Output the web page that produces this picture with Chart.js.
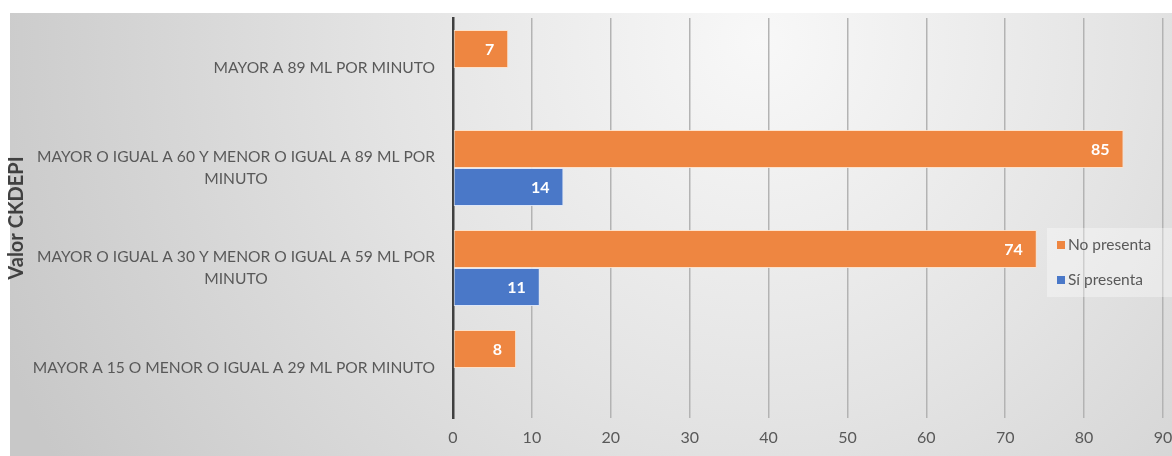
<!DOCTYPE html>
<html>
<head>
<meta charset="utf-8">
<script src="https://cdn.jsdelivr.net/npm/chart.js@4/dist/chart.umd.min.js"></script>
<style>
  html, body { margin: 0; padding: 0; background: #ffffff; }
  #wrap { width: 1172px; height: 456px; position: relative; }
</style>
</head>
<body>
<div id="wrap"><canvas id="c" width="1172" height="456"></canvas></div>
<script>
// ---- Data ----
const categories = [
  ["MAYOR A 89 ML POR MINUTO"],
  ["MAYOR O IGUAL A 60 Y MENOR O IGUAL A 89 ML POR", "MINUTO"],
  ["MAYOR O IGUAL A 30 Y MENOR O IGUAL A 59 ML POR", "MINUTO"],
  ["MAYOR A 15 O MENOR O IGUAL A 29 ML POR MINUTO"]
];
const seriesNames = ["No presenta", "Sí presenta"];
const noPresenta = [7, 85, 74, 8];
const siPresenta = [null, 14, 11, null];
const axisTitle = "Valor CKDEPI";
const xTicks = [0, 10, 20, 30, 40, 50, 60, 70, 80, 90];

const FONT = "Lato, 'Open Sans', sans-serif";
const orange = '#EE8641';
const blue = '#4A78C8';

// Background panel
const bgPlugin = {
  id: 'bgPanel',
  beforeDraw(chart) {
    const ctx = chart.ctx;
    ctx.save();
    ctx.fillStyle = '#ffffff';
    ctx.fillRect(0, 0, chart.width, chart.height);
    const g = ctx.createRadialGradient(760, 40, 0, 760, 40, 820);
    g.addColorStop(0, '#f8f8f8');
    g.addColorStop(0.45, '#e4e4e4');
    g.addColorStop(1, '#c8c8c8');
    ctx.fillStyle = g;
    ctx.fillRect(10, 13, chart.width - 10, chart.height - 13);
    ctx.restore();
  }
};

// Category labels (Excel-like: block right-aligned, lines centered)
const catLabelPlugin = {
  id: 'catLabels',
  afterDraw(chart) {
    const ctx = chart.ctx;
    const y = chart.scales.y;
    const right = chart.chartArea.left - 18;
    const lh = 21.5;
    ctx.save();
    ctx.font = '15.6px ' + FONT;
    ctx.fillStyle = '#595959';
    ctx.textBaseline = 'middle';
    ctx.textAlign = 'center';
    chart.data.labels.forEach((lab, i) => {
      const lines = Array.isArray(lab) ? lab : [lab];
      const w = Math.max(...lines.map(l => ctx.measureText(l).width));
      const cx = right - w / 2;
      const cy = y.getPixelForTick(i);
      const start = cy - (lines.length - 1) * lh / 2;
      lines.forEach((l, k) => ctx.fillText(l, cx, start + k * lh));
    });
    ctx.restore();
  }
};

// Value labels inside bar ends
const valueLabelPlugin = {
  id: 'valueLabels',
  afterDatasetsDraw(chart) {
    const ctx = chart.ctx;
    ctx.save();
    ctx.font = 'bold 16px ' + FONT;
    ctx.fillStyle = '#ffffff';
    ctx.textAlign = 'right';
    ctx.textBaseline = 'middle';
    chart.data.datasets.forEach((ds, di) => {
      const meta = chart.getDatasetMeta(di);
      meta.data.forEach((el, i) => {
        const v = ds.data[i];
        if (v === null || v === undefined || v === 0) return;
        ctx.fillText(String(v), el.x - 14, el.y + 1);
      });
    });
    ctx.restore();
  }
};

// Legend inside plot area, right side
const legendPlugin = {
  id: 'customLegend',
  afterDraw(chart) {
    const ctx = chart.ctx;
    const ca = chart.chartArea;
    const x0 = ca.right - 116, y0 = ca.top + 210;
    ctx.save();
    ctx.fillStyle = 'rgba(255,255,255,0.35)';
    ctx.fillRect(x0, y0, 125, 69);
    ctx.font = '15.5px ' + FONT;
    ctx.textBaseline = 'middle';
    ctx.textAlign = 'left';
    chart.data.datasets.forEach((ds, i) => {
      const cy = y0 + 17 + i * 35;
      ctx.fillStyle = ds.backgroundColor;
      ctx.fillRect(x0 + 10, cy - 4, 8, 8);
      ctx.fillStyle = '#595959';
      ctx.fillText(ds.label, x0 + 21, cy);
    });
    ctx.restore();
  }
};

new Chart(document.getElementById('c'), {
  type: 'bar',
  data: {
    labels: categories,
    datasets: [
      { label: seriesNames[0], data: noPresenta, backgroundColor: orange,
        borderColor: 'rgba(255,225,200,0.9)', borderWidth: 1, borderSkipped: false },
      { label: seriesNames[1], data: siPresenta, backgroundColor: blue,
        borderColor: 'rgba(220,230,250,0.9)', borderWidth: 1, borderSkipped: false }
    ]
  },
  options: {
    indexAxis: 'y',
    responsive: false,
    animation: false,
    layout: { padding: { left: 0, right: 9, top: 18, bottom: 0 } },
    datasets: { bar: { categoryPercentage: 0.76, barPercentage: 1.0 } },
    plugins: { legend: { display: false }, tooltip: { enabled: false } },
    scales: {
      x: {
        min: 0, max: 90,
        afterBuildTicks(scale) { scale.ticks = xTicks.map(v => ({ value: v })); },
        afterFit(scale) { scale.height = 38; scale.paddingRight = 0; scale.paddingLeft = 0; },
        grid: { color: '#b3b3b3', lineWidth: 1.5, drawTicks: false },
        border: { display: false },
        ticks: { color: '#595959', font: { family: FONT, size: 16 }, padding: 10 }
      },
      y: {
        afterFit(scale) { scale.width = 453; scale.paddingTop = 0; scale.paddingBottom = 0; },
        grid: { display: false, drawTicks: false },
        border: { display: true, color: '#3f3f3f', width: 2.5 },
        ticks: { display: false },
        title: {
          display: true, text: axisTitle, color: '#404040',
          font: { family: FONT, size: 20, weight: 'bold' },
          padding: { top: 5, bottom: 0 }
        }
      }
    }
  },
  plugins: [bgPlugin, catLabelPlugin, valueLabelPlugin, legendPlugin]
});
</script>
</body>
</html>
